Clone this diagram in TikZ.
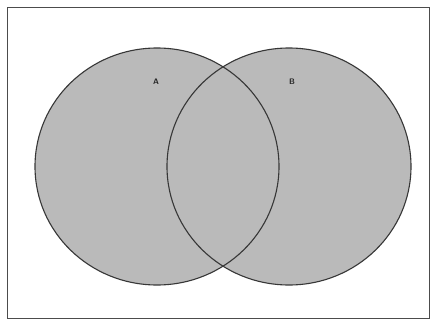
\documentclass[tikz,border=0pt]{standalone}
\usetikzlibrary{shapes.geometric}
\definecolor{vennfill}{RGB}{186,186,186}
\definecolor{vennline}{RGB}{55,55,55}
\begin{document}
\begin{tikzpicture}[x=1pt,y=-1pt,
  setbox/.style={ellipse,draw=vennline,line width=1.1pt,minimum width=244pt,minimum height=237pt,inner sep=0pt},
  lab/.style={font=\sffamily\bfseries\footnotesize,text=black!85,inner sep=0pt}]
\useasboundingbox (0,0) rectangle (434,321);
\fill[white] (0,0) rectangle (434,321);
\draw[black!70,line width=0.8pt] (7,7) rectangle (429,318);
\fill[vennfill] (157,166.5) ellipse [x radius=122, y radius=118.5];
\fill[vennfill] (289,166.5) ellipse [x radius=122, y radius=118.5];
\node[setbox] (A) at (157,166.5) {};
\node[setbox] (B) at (289,166.5) {};
\node[lab] (la) at (156,82) {A};
\node[lab] (lb) at (292,82) {B};
\end{tikzpicture}
\end{document}
